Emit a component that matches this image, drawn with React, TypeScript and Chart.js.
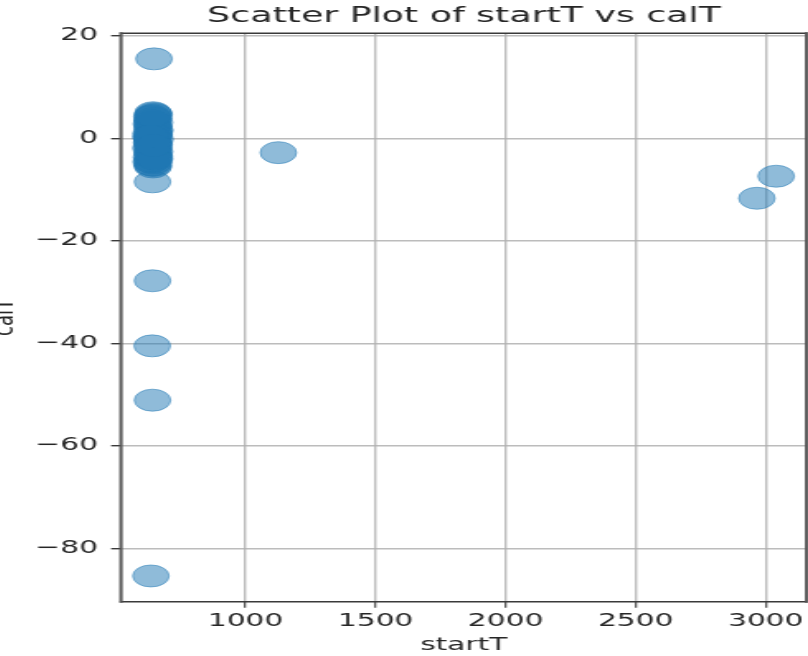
import React, { useEffect, useRef } from "react";
import { Chart, registerables } from "chart.js";

Chart.register(...registerables);

// ---- data ----
const startT: number[] = [
  648, 642, 642, 641, 642, 636, 1126, 2966, 3040,
  644, 648, 640, 646, 642, 650, 638, 645, 641, 649, 643, 637, 647, 644, 640, 652,
  645, 639, 648, 643, 636, 646, 650, 641, 644, 638, 647, 642, 645, 640, 644,
  646, 641, 651, 638, 645, 642, 649, 637, 646, 643, 648, 640, 644, 642, 650, 636, 647,
];
const calT: number[] = [
  15.5, -8.5, -27.8, -40.5, -51.1, -85.4, -2.8, -11.7, -7.4,
  5.0, 4.6, 4.2, 3.9, 3.5, 3.1, 2.8, 2.4, 2.0, 1.7, 1.3, 1.0, 0.6, 0.3, 0.0, -0.2,
  -0.5, -0.9, -1.2, -1.6, -1.9, -2.3, -2.6, -3.0, -3.3, -3.7, -4.1, -4.4, -4.8, -5.2, -5.6,
  4.8, 3.3, 1.5, 0.1, -1.0, -2.1, -3.5, -4.6, -5.3, 2.6, 0.8, -0.7, -2.8, 4.4, -4.0, 0.4, -1.4,
];
const xTicks: number[] = [1000, 1500, 2000, 2500, 3000];
const yTicks: number[] = [20, 0, -20, -40, -60, -80];
const X_MIN = 521;
const X_MAX = 3157;
const Y_MIN = -90.42;
const Y_MAX = 20.49;
const TITLE = "Scatter Plot of startT vs calT";
const X_LABEL = "startT";
const Y_LABEL = "calT";

// ---- layout / style ----
const SX = 1.65; // horizontal stretch of the reference image
const CW = 577;
const CH = 656;
const FONT = "'DejaVu Sans', sans-serif";
const TEXT = "#262626";
const GRID = "rgba(176,176,176,0.85)";
const SPINE = "#3a3a3a";

const spinesPlugin = {
  id: "spines",
  afterDraw(chart: any) {
    const { ctx, chartArea } = chart;
    const { left, right, top, bottom } = chartArea;
    ctx.save();
    ctx.strokeStyle = SPINE;
    ctx.lineCap = "square";
    ctx.lineWidth = 1.5;
    ctx.beginPath();
    ctx.moveTo(left, top);
    ctx.lineTo(right, top);
    ctx.moveTo(left, bottom);
    ctx.lineTo(right, bottom);
    ctx.stroke();
    ctx.strokeStyle = "#555";
    ctx.lineWidth = 2;
    ctx.beginPath();
    ctx.moveTo(left, top);
    ctx.lineTo(left, bottom);
    ctx.moveTo(right, top);
    ctx.lineTo(right, bottom);
    ctx.stroke();
    ctx.restore();
  },
};

const fmt = (v: number) => (v < 0 ? "\u2212" + Math.abs(v) : String(v));

export default function App() {
  const ref = useRef<HTMLCanvasElement | null>(null);

  useEffect(() => {
    if (!ref.current) return;
    const points = startT.map((x, i) => ({ x, y: calT[i] }));
    const chart = new Chart(ref.current, {
      type: "scatter",
      data: {
        datasets: [
          {
            data: points,
            backgroundColor: "rgba(31,119,180,0.5)",
            borderColor: "rgba(31,119,180,0.5)",
            borderWidth: 1,
            pointRadius: 11,
            pointHoverRadius: 11,
          },
        ],
      },
      options: {
        responsive: false,
        animation: false,
        devicePixelRatio: 1,
        layout: { padding: 0 },
        plugins: {
          legend: { display: false },
          tooltip: { enabled: false },
          title: {
            display: true,
            text: TITLE,
            color: TEXT,
            font: { family: FONT, size: 22, weight: "normal" },
            padding: { top: 2.6, bottom: 4.3 },
          },
        },
        scales: {
          x: {
            type: "linear",
            position: "bottom",
            min: X_MIN,
            max: X_MAX,
            afterBuildTicks: (s: any) => {
              s.ticks = xTicks.map((v) => ({ value: v }));
            },
            afterFit: (s: any) => {
              s.height = 54.3;
            },
            ticks: {
              color: TEXT,
              font: { family: FONT, size: 18 },
              padding: 3,
              maxRotation: 0,
              autoSkip: false,
              callback: (v: any) => fmt(Number(v)),
            },
            grid: {
              color: GRID,
              lineWidth: 1.4,
              tickColor: SPINE,
              tickLength: 6,
              tickWidth: 1.1,
            },
            border: { display: false },
            title: {
              display: true,
              text: X_LABEL,
              color: TEXT,
              font: { family: FONT, size: 18 },
              padding: { top: 0, bottom: 0 },
            },
          },
          y: {
            type: "linear",
            position: "left",
            min: Y_MIN,
            max: Y_MAX,
            afterBuildTicks: (s: any) => {
              s.ticks = yTicks.map((v) => ({ value: v }));
            },
            afterFit: (s: any) => {
              s.width = 80.6;
            },
            ticks: {
              color: TEXT,
              font: { family: FONT, size: 18 },
              padding: 8,
              autoSkip: false,
              callback: (v: any) => fmt(Number(v)),
            },
            grid: {
              color: GRID,
              lineWidth: 1.4,
              tickColor: SPINE,
              tickLength: 6,
              tickWidth: 1.4,
            },
            border: { display: false },
            title: {
              display: true,
              text: Y_LABEL,
              color: TEXT,
              font: { family: FONT, size: 18 },
              padding: { top: 0, bottom: 0 },
            },
          },
          yRight: {
            type: "linear",
            position: "right",
            display: true,
            afterFit: (s: any) => {
              s.width = CW - 496.1;
            },
            ticks: { display: false },
            grid: { display: false, drawTicks: false },
            border: { display: false },
          },
        },
      } as any,
      plugins: [spinesPlugin],
    });
    return () => chart.destroy();
  }, []);

  return (
    <div
      style={{
        position: "fixed",
        left: 0,
        top: 0,
        width: 808,
        height: 656,
        overflow: "hidden",
        background: "#fff",
      }}
    >
      <div
        style={{
          position: "absolute",
          left: -12,
          top: 0,
          width: CW,
          height: CH,
          transform: `scaleX(${SX})`,
          transformOrigin: "0 0",
        }}
      >
        <canvas ref={ref} width={CW} height={CH} style={{ display: "block" }} />
      </div>
    </div>
  );
}
